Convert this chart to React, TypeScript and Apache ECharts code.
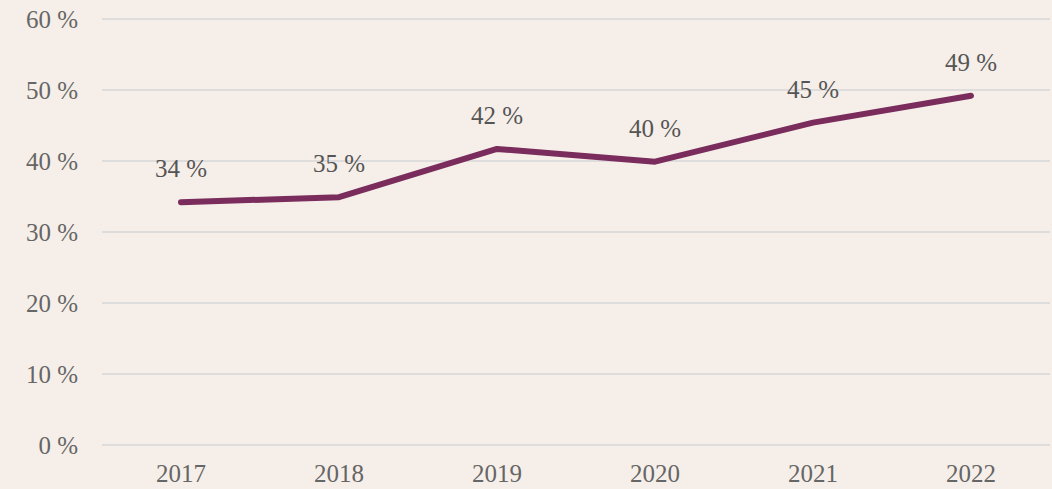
import React, { useEffect, useRef } from "react";
import * as echarts from "echarts";

const categories = ["2017", "2018", "2019", "2020", "2021", "2022"];
const values = [34.2, 34.9, 41.7, 39.9, 45.4, 49.2];
const labels = ["34 %", "35 %", "42 %", "40 %", "45 %", "49 %"];

export default function App() {
  const ref = useRef<HTMLDivElement>(null);
  useEffect(() => {
    const chart = echarts.init(ref.current!, null, { renderer: "svg" });
    const font = "'Liberation Serif', 'Times New Roman', serif";
    chart.setOption({
      animation: false,
      backgroundColor: "#f6efe9",
      grid: { left: 102, right: 2, top: 19, bottom: 44 },
      xAxis: {
        type: "category",
        data: categories,
        boundaryGap: true,
        axisLine: { show: false },
        axisTick: { show: false },
        axisLabel: { color: "#666", fontFamily: font, fontSize: 25, margin: 16 },
      },
      yAxis: {
        type: "value",
        min: 0,
        max: 60,
        interval: 10,
        axisLine: { show: false },
        axisTick: { show: false },
        splitLine: { lineStyle: { color: "#dfdcdc", width: 2 } },
        axisLabel: {
          color: "#666",
          fontFamily: font,
          fontSize: 25,
          margin: 24,
          formatter: (v: number) => `${v} %`,
        },
      },
      series: [
        {
          type: "line",
          data: values,
          symbol: "circle",
          symbolSize: 2,
          showSymbol: true,
          itemStyle: { color: "rgba(122,44,92,0)", borderWidth: 0 },
          lineStyle: { color: "#7a2c5c", width: 6, cap: "round", join: "round" },
          label: {
            show: true,
            position: "top",
            distance: 20,
            color: "#555",
            fontFamily: font,
            fontSize: 25,
            formatter: (p: any) => labels[p.dataIndex],
          },
        },
      ],
    });
    return () => chart.dispose();
  }, []);
  return (
    <div
      ref={ref}
      style={{ position: "fixed", left: 0, top: 0, width: 1052, height: 489 }}
    />
  );
}
